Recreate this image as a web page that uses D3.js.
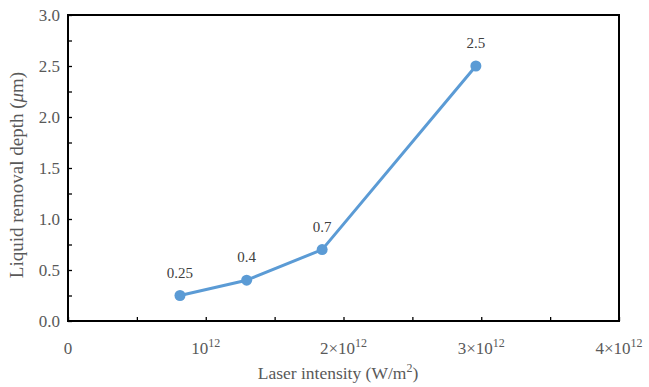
<!DOCTYPE html>
<html>
<head>
<meta charset="utf-8">
<script src="https://cdn.jsdelivr.net/npm/d3@7"></script>
<style>
  html, body { margin: 0; padding: 0; background: #fff; }
  svg { display: block; }
  text { font-family: "Liberation Serif", "Times New Roman", serif; }
</style>
</head>
<body>
<svg id="chart" width="649" height="387"></svg>
<script>
// Laser intensity (in units of 10^12 W/m^2) and measured liquid removal depth (µm)
const intensity = [0.813, 1.297, 1.845, 2.961];
const depth = [0.25, 0.4, 0.7, 2.5];
const depthLabels = ["0.25", "0.4", "0.7", "2.5"];

const xMajorTicks = [0, 1, 2, 3, 4];
const xTickLabels = [["0", ""], ["10", "12"], ["2×10", "12"], ["3×10", "12"], ["4×10", "12"]];
const xMinorTicks = [0.5, 1.5, 2.5, 3.5];
const yMajorTicks = [0, 0.5, 1.0, 1.5, 2.0, 2.5, 3.0];
const yMinorTicks = [0.25, 0.75, 1.25, 1.75, 2.25, 2.75];

const svg = d3.select("#chart");
const margin = { left: 68, right: 30, top: 15, bottom: 66 };
const W = 649, H = 387;
const x = d3.scaleLinear().domain([0, 4]).range([margin.left, W - margin.right]);
const y = d3.scaleLinear().domain([0, 3]).range([H - margin.bottom, margin.top]);

const tickColor = "#595959";

// frame
svg.append("rect")
  .attr("x", x(0)).attr("y", y(3))
  .attr("width", x(4) - x(0)).attr("height", y(0) - y(3))
  .attr("fill", "none").attr("stroke", "#000").attr("stroke-width", 2);

// x axis ticks (inward)
const xAxis = d3.axisBottom(x).tickValues(xMajorTicks.concat(xMinorTicks)).tickSize(-4).tickFormat("");
const gx = svg.append("g").attr("transform", `translate(0,${y(0)})`).call(xAxis);
gx.select(".domain").remove();
gx.selectAll(".tick line").attr("stroke", "#000").attr("stroke-width", 1.3);

// x tick labels with superscript exponent
const xl = svg.append("g");
xMajorTicks.forEach((v, i) => {
  const t = xl.append("text")
    .attr("x", x(v)).attr("y", y(0) + 33)
    .attr("text-anchor", "middle")
    .attr("fill", tickColor)
    .attr("font-size", 17);
  t.append("tspan").text(xTickLabels[i][0]);
  if (xTickLabels[i][1]) {
    t.append("tspan").attr("dy", -7).attr("font-size", 12).text(xTickLabels[i][1]);
  }
});

// y axis ticks (inward)
const yAxis = d3.axisLeft(y).tickValues(yMajorTicks.concat(yMinorTicks)).tickSize(-4).tickFormat("");
const gy = svg.append("g").attr("transform", `translate(${x(0)},0)`).call(yAxis);
gy.select(".domain").remove();
gy.selectAll(".tick line").attr("stroke", "#000").attr("stroke-width", 1.3);

svg.append("g").selectAll("text").data(yMajorTicks).join("text")
  .attr("x", x(0) - 8).attr("y", d => y(d) + 5.5)
  .attr("text-anchor", "end")
  .attr("fill", tickColor)
  .attr("font-size", 17)
  .text(d => d3.format(".1f")(d));

// axis titles
const xt = svg.append("text")
  .attr("x", 338).attr("y", H - 8)
  .attr("text-anchor", "middle").attr("fill", tickColor).attr("font-size", 17.5);
xt.append("tspan").text("Laser intensity (W/m");
xt.append("tspan").attr("dy", -7).attr("font-size", 12).text("2");
xt.append("tspan").attr("dy", 7).text(")");

const yt = svg.append("text")
  .attr("transform", `translate(23,175) rotate(-90)`)
  .attr("text-anchor", "middle").attr("fill", tickColor).attr("font-size", 19);
yt.append("tspan").text("Liquid removal depth (");
yt.append("tspan").attr("font-style", "italic").text("μ");
yt.append("tspan").text("m)");

// series line
const pts = intensity.map((v, i) => [v, depth[i]]);
svg.append("path")
  .datum(pts)
  .attr("fill", "none")
  .attr("stroke", "#5B9BD5")
  .attr("stroke-width", 3)
  .attr("stroke-linejoin", "round")
  .attr("d", d3.line().x(d => x(d[0])).y(d => y(d[1])));

svg.append("g").selectAll("circle").data(pts).join("circle")
  .attr("cx", d => x(d[0])).attr("cy", d => y(d[1]))
  .attr("r", 5.5).attr("fill", "#5B9BD5");

// value labels
svg.append("g").selectAll("text").data(pts).join("text")
  .attr("x", d => x(d[0])).attr("y", d => y(d[1]) - 18)
  .attr("text-anchor", "middle")
  .attr("fill", "#404040")
  .attr("font-size", 15)
  .text((d, i) => depthLabels[i]);
</script>
</body>
</html>
